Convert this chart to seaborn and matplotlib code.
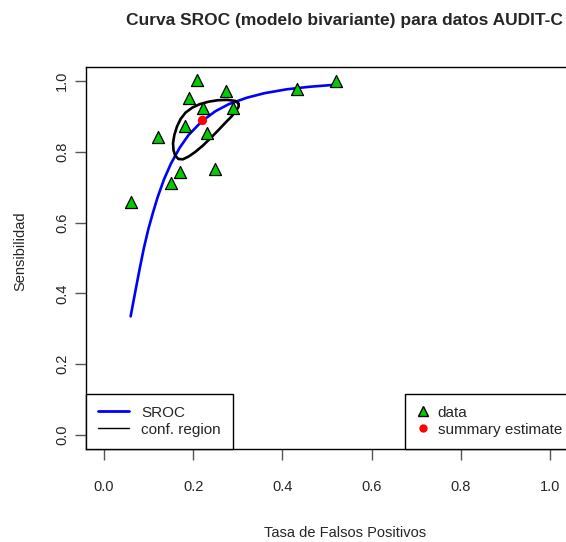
import matplotlib
matplotlib.use("Agg")
import matplotlib.pyplot as plt
from matplotlib.lines import Line2D
import seaborn as sns
import pandas as pd

# study points (false positive rate, sensitivity)
fpr = [0.209, 0.273, 0.191, 0.222, 0.289, 0.181, 0.231, 0.121,
       0.171, 0.250, 0.151, 0.060, 0.433, 0.520]
sens = [1.003, 0.973, 0.951, 0.925, 0.923, 0.873, 0.854, 0.841,
        0.742, 0.753, 0.713, 0.658, 0.979, 1.001]

# summary estimate
sum_fpr = [0.221]
sum_sens = [0.889]

# SROC curve
sroc_fpr = [0.060, 0.070, 0.080, 0.090, 0.100, 0.110, 0.120, 0.135, 0.150,
            0.170, 0.190, 0.220, 0.250, 0.280, 0.320, 0.360, 0.410, 0.460, 0.520]
sroc_sens = [0.335, 0.402, 0.468, 0.530, 0.583, 0.628, 0.670, 0.723, 0.766,
             0.812, 0.848, 0.887, 0.915, 0.935, 0.953, 0.966, 0.977, 0.984, 0.990]

# confidence region outline
reg_fpr = [0.302, 0.295, 0.276, 0.255, 0.235, 0.215, 0.198, 0.183, 0.172,
           0.164, 0.158, 0.155, 0.156, 0.160, 0.167, 0.177, 0.190, 0.205,
           0.222, 0.240, 0.257, 0.272, 0.286, 0.297, 0.302, 0.302]
reg_sens = [0.936, 0.944, 0.947, 0.946, 0.942, 0.935, 0.925, 0.911, 0.893,
            0.872, 0.848, 0.825, 0.805, 0.789, 0.780, 0.779, 0.787, 0.800,
            0.818, 0.840, 0.862, 0.882, 0.900, 0.917, 0.928, 0.936]

ticks = [0.0, 0.2, 0.4, 0.6, 0.8, 1.0]
tick_labels = ["0.0", "0.2", "0.4", "0.6", "0.8", "1.0"]

sns.set_style("white")
plt.rcParams["font.family"] = ["Liberation Sans", "DejaVu Sans"]

fig = plt.figure(figsize=(5.66, 5.42), dpi=100)
ax = fig.add_axes([86 / 566, 93 / 542, (568 - 86) / 566, (449 - 67) / 542])

df_pts = pd.DataFrame({"fpr": fpr, "sens": sens})
df_sroc = pd.DataFrame({"fpr": sroc_fpr, "sens": sroc_sens})
df_reg = pd.DataFrame({"fpr": reg_fpr, "sens": reg_sens})

sns.lineplot(data=df_sroc, x="fpr", y="sens", sort=False, estimator=None,
             color="#0000FF", linewidth=1.9, ax=ax, zorder=2)
sns.lineplot(data=df_reg, x="fpr", y="sens", sort=False, estimator=None,
             color="black", linewidth=1.9, ax=ax, zorder=3)
sns.scatterplot(data=df_pts, x="fpr", y="sens", marker="^", s=75,
                color="#00CD00", edgecolor="black", linewidth=0.9, ax=ax, zorder=4)
sns.scatterplot(x=sum_fpr, y=sum_sens, marker="o", s=45, color="#FF0000",
                edgecolor="none", ax=ax, zorder=5)

ax.set_xlim(-0.04, 1.04)
ax.set_ylim(-0.04, 1.04)
ax.set_xticks(ticks)
ax.set_xticklabels(tick_labels)
ax.set_yticks(ticks)
ax.set_yticklabels(tick_labels, rotation=90, va="center")
ax.set_xlabel("")
ax.set_ylabel("")
for sp in ax.spines.values():
    sp.set_color("black")
    sp.set_linewidth(1.0)
ax.tick_params(axis="x", bottom=True, length=8, width=1, color="#555555",
               labelsize=10.5, pad=14)
ax.tick_params(axis="y", left=True, length=8, width=1, color="#555555",
               labelsize=10.5, pad=4)

h1 = [Line2D([], [], color="#0000FF", lw=2),
      Line2D([], [], color="black", lw=1)]
leg1 = ax.legend(h1, ["SROC", "conf. region"], loc="lower left",
                 bbox_to_anchor=(0, 0), borderaxespad=0, fancybox=False,
                 edgecolor="black", framealpha=1, fontsize=11,
                 handlelength=2.0, handletextpad=0.8, labelspacing=0.2,
                 borderpad=0.8)
leg1.get_frame().set_linewidth(1.0)
ax.add_artist(leg1)

h2 = [Line2D([], [], marker="^", ls="none", markerfacecolor="#00CD00",
             markeredgecolor="black", markersize=7),
      Line2D([], [], marker="o", ls="none", markerfacecolor="#FF0000",
             markeredgecolor="none", markersize=6)]
leg2 = ax.legend(h2, ["data", "summary estimate"], loc="lower right",
                 bbox_to_anchor=(1.013, 0), borderaxespad=0, fancybox=False,
                 edgecolor="black", framealpha=1, fontsize=11,
                 handlelength=0.8, handletextpad=0.55, labelspacing=0.2,
                 borderpad=0.8)
leg2.get_frame().set_linewidth(1.0)

fig.text(344 / 566, 1 - 20 / 542,
         "Curva SROC (modelo bivariante) para datos AUDIT-C",
         ha="center", va="center", fontsize=12.5, fontweight="bold")
fig.text(345 / 566, 1 - 533 / 542, "Tasa de Falsos Positivos",
         ha="center", va="center", fontsize=10.5)
fig.text(20 / 566, 1 - 251 / 542, "Sensibilidad", rotation=90,
         ha="center", va="center", fontsize=10.5)

fig.savefig("out.png", dpi=100)
